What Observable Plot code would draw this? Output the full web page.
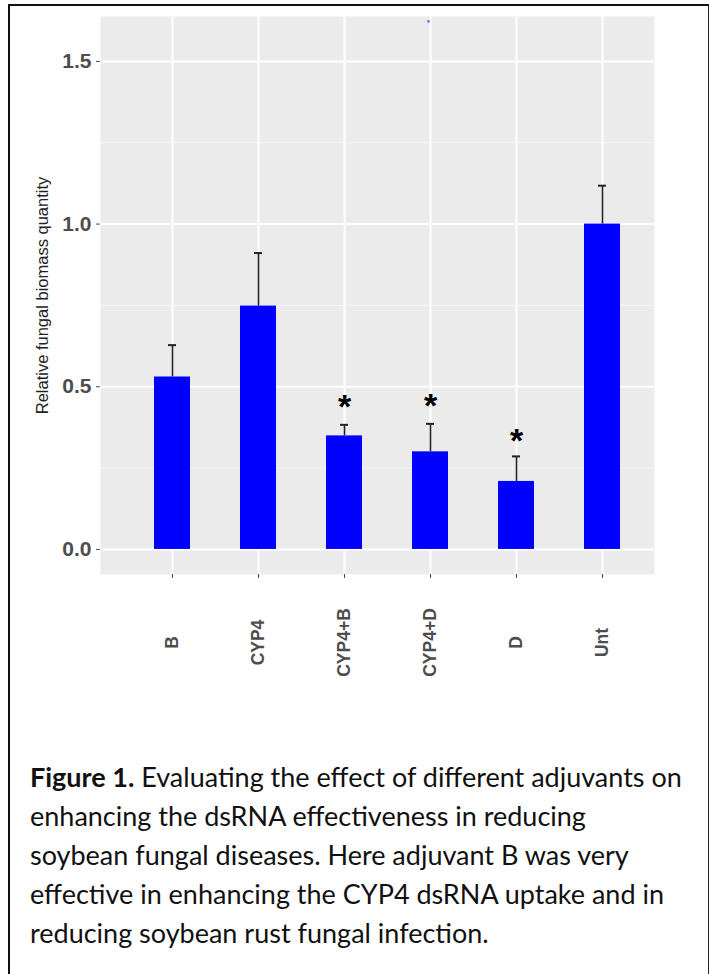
<!DOCTYPE html>
<html><head><meta charset="utf-8">
<script src="https://cdn.jsdelivr.net/npm/d3@7"></script>
<script src="https://cdn.jsdelivr.net/npm/@observablehq/plot@0.6"></script>
<style>
html,body{margin:0;padding:0;background:#fff;}
#page{position:relative;width:710px;height:974px;overflow:hidden;}
#border{position:absolute;left:8px;top:4px;width:701px;height:1000px;box-sizing:border-box;border-left:2.5px solid #111;border-top:2.5px solid #111;border-right:1px solid #222;}
#chart{position:absolute;left:0;top:0;}
#caption{position:absolute;left:30px;top:757px;font-family:Lato, sans-serif;font-size:27px;line-height:39px;color:#111;white-space:nowrap;}
</style></head>
<body><div id="page"><div id="border"></div><div id="chart"></div>
<div id="caption"><b>Figure 1.</b> Evaluating the effect of different adjuvants on<br>enhancing the dsRNA effectiveness in reducing<br>soybean fungal diseases. Here adjuvant B was very<br>effective in enhancing the CYP4 dsRNA uptake and in<br>reducing soybean rust fungal infection.</div>
</div>
<script>
const categories = ["B", "CYP4", "CYP4+B", "CYP4+D", "D", "Unt"];
const means = [0.53, 0.748, 0.349, 0.30, 0.209, 1.0];
const uppers = [0.628, 0.911, 0.383, 0.386, 0.286, 1.118];
const starCategories = ["CYP4+B", "CYP4+D", "D"];
const starY = [0.450, 0.452, 0.345];
const strayCategory = ["CYP4+D"];
const strayY = [1.623];
const majorTicks = [0, 0.5, 1.0, 1.5];
const minorTicks = [0.25, 0.75, 1.25];
const yLabel = "Relative fungal biomass quantity";

const data = categories.map((c, i) => ({cat: c, mean: means[i], upper: uppers[i]}));
const starData = starCategories.map((c, i) => ({cat: c, y: starY[i]}));
const stray = strayCategory.map((c, i) => ({cat: c, y: strayY[i]}));

const chart = Plot.plot({
  width: 710, height: 690,
  marginLeft: 100, marginRight: 56, marginTop: 16, marginBottom: 116,
  style: {fontFamily: "'Liberation Sans', Arial, sans-serif", background: "transparent", overflow: "visible"},
  x: {type: "band", domain: categories, paddingInner: 0.583, paddingOuter: 0.501, align: 0.613, axis: null},
  y: {domain: [-0.077, 1.638], axis: null},
  marks: [
    Plot.frame({fill: "#EBEBEB", stroke: null}),
    Plot.ruleY(minorTicks, {stroke: "#F7F7F7", strokeWidth: 1}),
    Plot.ruleY(majorTicks, {stroke: "#FFFFFF", strokeWidth: 2}),
    Plot.gridX({stroke: "#FFFFFF", strokeOpacity: 1, strokeWidth: 2}),
    Plot.barY(data, {x: "cat", y: "mean", fill: "#0000FF"}),
    Plot.ruleX(data, {x: "cat", y1: "mean", y2: "upper", stroke: "#222", strokeWidth: 1.6}),
    Plot.tickY(data, {x: "cat", y: "upper", stroke: "#222", strokeWidth: 2, insetLeft: 14, insetRight: 14}),
    Plot.text(starData, {x: "cat", y: "y", text: () => "*", fontSize: 34, fontWeight: "bold", fill: "#000", dy: 4}),
    Plot.dot(stray, {x: "cat", y: "y", r: 1.3, fill: "#6b6bff", stroke: null, dx: -2}),
    Plot.axisY({ticks: majorTicks, tickFormat: d3.format(".1f"), tickSize: 4, tickPadding: 5, fontSize: 21, fontWeight: "bold", color: "#4D4D4D", label: null}),
    Plot.axisX({tickSize: 4, tickFormat: () => "", label: null, stroke: "#4D4D4D"}),
    Plot.text(categories, {x: d => d, text: d => d, frameAnchor: "bottom", dy: 68, rotate: -90, textAnchor: "middle", lineAnchor: "middle", fontSize: 17.5, fontWeight: "bold", fill: "#4D4D4D"}),
    Plot.text([yLabel], {text: d => d, frameAnchor: "left", dx: -58, rotate: -90, textAnchor: "middle", lineAnchor: "middle", fontSize: 16.5, fill: "#222"})
  ]
});
document.getElementById("chart").appendChild(chart);
</script>
</body></html>
